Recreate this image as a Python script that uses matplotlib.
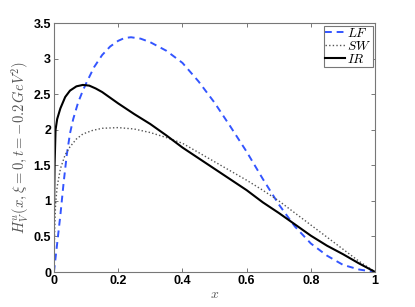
import numpy as np
import matplotlib
matplotlib.use("Agg")
import matplotlib.pyplot as plt

plt.rcParams['mathtext.fontset'] = 'cm'

# values
x_lf = [0, 0.005, 0.01, 0.02, 0.03, 0.04, 0.05, 0.06, 0.075, 0.09, 0.1, 0.125, 0.15,
        0.175, 0.2, 0.22, 0.24, 0.27, 0.3, 0.35, 0.4, 0.45, 0.5, 0.55, 0.6, 0.65,
        0.7, 0.75, 0.8, 0.85, 0.9, 0.95, 1.0]
y_lf = [0, 0.2, 0.4, 0.8, 1.25, 1.65, 1.95, 2.15, 2.38, 2.55, 2.65, 2.88, 3.05,
        3.17, 3.25, 3.29, 3.3, 3.28, 3.23, 3.11, 2.94, 2.68, 2.38, 2.04, 1.69, 1.31,
        0.95, 0.64, 0.4, 0.23, 0.1, 0.035, 0]

x_sw = [0, 0.002, 0.005, 0.01, 0.02, 0.035, 0.05, 0.07, 0.09, 0.12, 0.15, 0.2, 0.25,
        0.3, 0.35, 0.4, 0.45, 0.5, 0.55, 0.6, 0.65, 0.7, 0.75, 0.8, 0.85, 0.9, 0.95, 1.0]
y_sw = [0, 0.55, 0.95, 1.2, 1.45, 1.65, 1.76, 1.87, 1.94, 1.99, 2.02, 2.03, 2.01,
        1.96, 1.89, 1.81, 1.68, 1.55, 1.42, 1.29, 1.15, 1.0, 0.83, 0.66, 0.49, 0.32, 0.15, 0]

x_ir = [0, 0.002, 0.005, 0.01, 0.02, 0.035, 0.05, 0.07, 0.09, 0.11, 0.13, 0.15, 0.2,
        0.25, 0.3, 0.35, 0.4, 0.45, 0.5, 0.55, 0.6, 0.65, 0.7, 0.75, 0.8, 0.85, 0.9,
        0.95, 1.0]
y_ir = [0.78, 1.5, 2.0, 2.15, 2.3, 2.46, 2.55, 2.61, 2.63, 2.62, 2.58, 2.53, 2.37,
        2.22, 2.08, 1.92, 1.75, 1.6, 1.45, 1.3, 1.15, 0.98, 0.83, 0.67, 0.51, 0.37,
        0.25, 0.12, 0]

xticks = [0, 0.2, 0.4, 0.6, 0.8, 1]
xticklabels = ["0", "0.2", "0.4", "0.6", "0.8", "1"]
yticks = [0, 0.5, 1, 1.5, 2, 2.5, 3, 3.5]
yticklabels = ["0", "0.5", "1", "1.5", "2", "2.5", "3", "3.5"]

fig = plt.figure(figsize=(4.15, 3.07), dpi=100)
ax = fig.add_axes([0.130, 0.114, 0.774, 0.811])

ax.plot(x_lf, y_lf, color="#3355ff", linestyle=(0, (3.5, 2.5)), linewidth=1.4,
        label=r"$LF$")
ax.plot(x_sw, y_sw, color="#555555", linestyle=(0, (1, 1.6)), linewidth=1.0,
        label=r"$SW$")
ax.plot(x_ir, y_ir, color="black", linewidth=1.5, label=r"$IR$")

tick_font = dict(family="Liberation Sans", weight="bold", size=9)
ax.set_xlim(0, 1)
ax.set_ylim(0, 3.5)
ax.set_xticks(xticks)
ax.set_xticklabels(xticklabels, fontdict=tick_font)
ax.set_yticks(yticks)
ax.set_yticklabels(yticklabels, fontdict=tick_font)
ax.tick_params(direction="in", top=True, right=True, length=3, color="#777777",
               width=0.7, pad=2)
for s in ax.spines.values():
    s.set_color("#777777")
    s.set_linewidth(0.8)

ax.set_xlabel(r"$x$", fontsize=10, color="#555555", labelpad=0)
ax.set_ylabel(r"$H_V^u(x,\xi=0,t=-0.2\,GeV^2)$", fontsize=10.5, color="#555555",
              labelpad=2)

leg = ax.legend(loc="upper right", fontsize=9.5, handlelength=1.5, handletextpad=0.2,
                labelspacing=0.0, borderpad=0.1, borderaxespad=0.2,
                fancybox=False, framealpha=1, edgecolor="#777777")
leg.get_frame().set_linewidth(0.8)

fig.savefig("out.png", dpi=100)
